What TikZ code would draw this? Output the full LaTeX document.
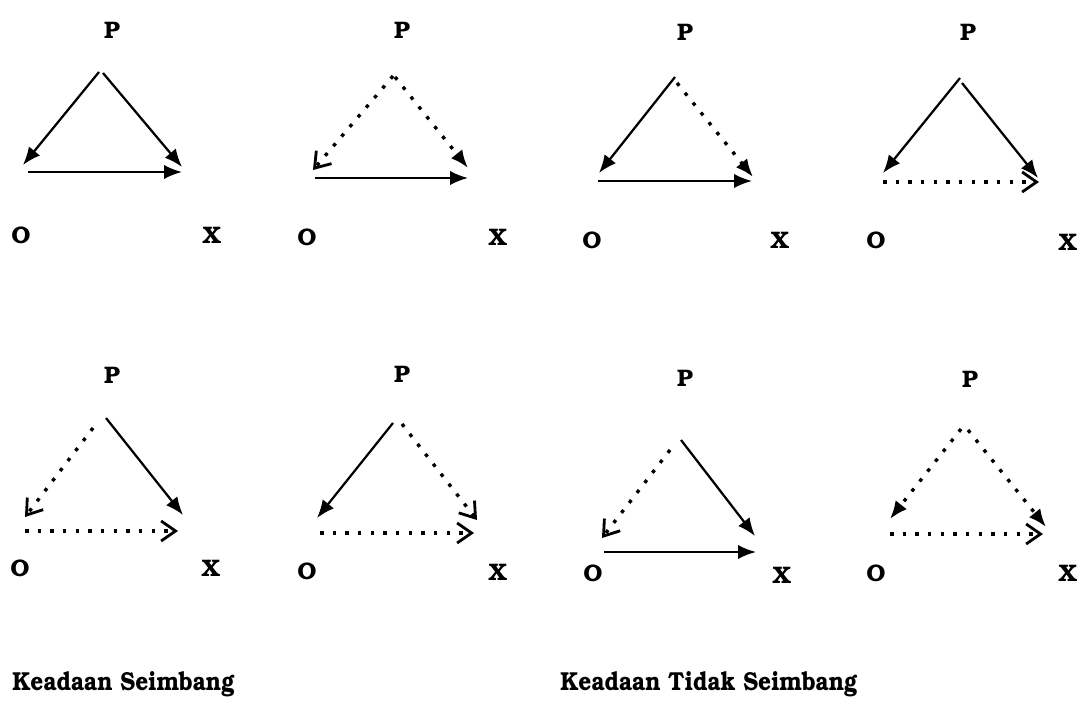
\documentclass[tikz,border=0pt]{standalone}
\usepackage[T1]{fontenc}
\usepackage{bookman}
\usepackage{tikz}
\usetikzlibrary{arrows.meta}

\begin{document}
\begin{tikzpicture}[x=0.25mm, y=-0.25mm,
  vertex/.style={font=\bfseries\fontsize{17}{17}\selectfont, inner sep=0pt},
  heading/.style={font=\bfseries\fontsize{18.5}{18.5}\selectfont, inner sep=0pt, anchor=west},
  plus/.style={-{Latex[length=4.5mm,width=3.6mm]}, line width=1.6pt},
  minus/.style={-{Latex[length=4.5mm,width=3.6mm]}, line width=2.4pt, dash pattern=on 2.5pt off 6.5pt},
  minusopen/.style={-{Straight Barb[length=3.6mm,width=5mm,line width=2pt]}, line width=2.4pt, dash pattern=on 2.5pt off 6.5pt}
]
\useasboundingbox (0,0) rectangle (1079,721);

% Keadaan Seimbang
\node[vertex] (Pa) at (112,30) {P};
\node[vertex] (Oa) at (21,235) {O};
\node[vertex] (Xa) at (212,235) {X};
\coordinate (a1) at (99,72); \coordinate (a2) at (103,73);
\coordinate (aL) at (23,165); \coordinate (aR) at (182,167);
\coordinate (aB) at (28,172); \coordinate (aE) at (182,172);
\draw[plus] (a1) -- (aL);
\draw[plus] (a2) -- (aR);
\draw[plus] (aB) -- (aE);

\node[vertex] (Pb) at (402,30) {P};
\node[vertex] (Ob) at (307,237) {O};
\node[vertex] (Xb) at (498,237) {X};
\coordinate (b1) at (393,76); \coordinate (b2) at (395,77);
\coordinate (bL) at (313,170); \coordinate (bR) at (468,168);
\coordinate (bB) at (315,178); \coordinate (bE) at (468,178);
\draw[minusopen] (b1) -- (bL);
\draw[minus] (b2) -- (bR);
\draw[plus] (bB) -- (bE);

\node[vertex] (Pe) at (112,375) {P};
\node[vertex] (Oe) at (20,568) {O};
\node[vertex] (Xe) at (211,568) {X};
\coordinate (e1) at (93,428); \coordinate (e2) at (106,418);
\coordinate (eL) at (25,517); \coordinate (eR) at (183,515);
\coordinate (eB) at (25,531); \coordinate (eE) at (178,531);
\draw[minusopen] (e1) -- (eL);
\draw[plus] (e2) -- (eR);
\draw[minusopen] (eB) -- (eE);

\node[vertex] (Pf) at (402,374) {P};
\node[vertex] (Of) at (307,571) {O};
\node[vertex] (Xf) at (498,572) {X};
\coordinate (f1) at (393,423); \coordinate (f2) at (402,424);
\coordinate (fL) at (317,518); \coordinate (fR) at (477,520);
\coordinate (fB) at (320,533); \coordinate (fE) at (474,533);
\draw[plus] (f1) -- (fL);
\draw[minusopen] (f2) -- (fR);
\draw[minusopen] (fB) -- (fE);

% Keadaan Tidak Seimbang
\node[vertex] (Pc) at (685,32) {P};
\node[vertex] (Oc) at (592,240) {O};
\node[vertex] (Xc) at (780,240) {X};
\coordinate (c1) at (675,77); \coordinate (c2) at (677,83);
\coordinate (cL) at (599,173); \coordinate (cR) at (753,177);
\coordinate (cB) at (598,181); \coordinate (cE) at (752,181);
\draw[plus] (c1) -- (cL);
\draw[minus] (c2) -- (cR);
\draw[plus] (cB) -- (cE);

\node[vertex] (Pd) at (968,32) {P};
\node[vertex] (Od) at (876,240) {O};
\node[vertex] (Xd) at (1068,242) {X};
\coordinate (d1) at (960,78); \coordinate (d2) at (962,83);
\coordinate (dL) at (883,173); \coordinate (dR) at (1038,178);
\coordinate (dB) at (883,182); \coordinate (dE) at (1039,182);
\draw[plus] (d1) -- (dL);
\draw[plus] (d2) -- (dR);
\draw[minusopen] (dB) -- (dE);

\node[vertex] (Pg) at (685,378) {P};
\node[vertex] (Og) at (593,573) {O};
\node[vertex] (Xg) at (782,575) {X};
\coordinate (g1) at (670,450); \coordinate (g2) at (681,440);
\coordinate (gL) at (602,538); \coordinate (gR) at (755,536);
\coordinate (gB) at (604,552); \coordinate (gE) at (756,552);
\draw[minusopen] (g1) -- (gL);
\draw[plus] (g2) -- (gR);
\draw[plus] (gB) -- (gE);

\node[vertex] (Ph) at (970,379) {P};
\node[vertex] (Oh) at (876,573) {O};
\node[vertex] (Xh) at (1068,573) {X};
\coordinate (h1) at (961,429); \coordinate (h2) at (968,430);
\coordinate (hL) at (890,519); \coordinate (hR) at (1046,527);
\coordinate (hB) at (890,534); \coordinate (hE) at (1043,534);
\draw[minus] (h1) -- (hL);
\draw[minus] (h2) -- (hR);
\draw[minusopen] (hB) -- (hE);

\node[heading] (seimbang) at (12,684) {\scalebox{0.87}[1]{Keadaan Seimbang}};
\node[heading] (tidak) at (560,684) {\scalebox{0.87}[1]{Keadaan Tidak Seimbang}};
\end{tikzpicture}
\end{document}
